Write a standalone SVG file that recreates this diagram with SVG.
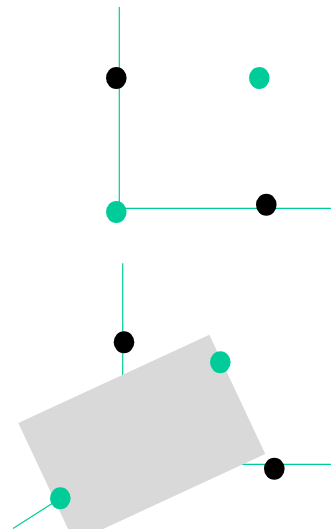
<svg xmlns="http://www.w3.org/2000/svg" width="331" height="529" viewBox="0 0 331 529">
<style>
.ln{stroke:#00cc99;stroke-width:1.2;fill:none}
.g{fill:#00cc99}
.b{fill:#000}
</style>
<rect width="331" height="529" fill="#fff"/>
<g id="connectors">
<line class="ln" x1="119.3" y1="7" x2="119.3" y2="208.3"/>
<line class="ln" x1="119.3" y1="208.3" x2="331" y2="208.3"/>
<line class="ln" x1="122.7" y1="263.3" x2="122.7" y2="380"/>
<line class="ln" x1="240" y1="464.3" x2="331" y2="464.3"/>
<line class="ln" x1="13" y1="528.5" x2="60.3" y2="498.3"/>
</g>
<g id="shape">
<polygon points="18.3,423 209.3,334.7 265.3,454 74.3,542.3" fill="#d9d9d9"/>
</g>
<g id="dot1"><ellipse class="b" cx="116.3" cy="78" rx="10.3" ry="11"/></g>
<g id="dot2"><ellipse class="g" cx="259.3" cy="78" rx="10.3" ry="11"/></g>
<g id="dot3"><ellipse class="g" cx="116.3" cy="212" rx="10.3" ry="11"/></g>
<g id="dot4"><ellipse class="b" cx="266.3" cy="204.7" rx="10.3" ry="11"/></g>
<g id="dot5"><ellipse class="b" cx="124" cy="342.3" rx="10.3" ry="11"/></g>
<g id="dot6"><ellipse class="g" cx="220.3" cy="362.3" rx="10.3" ry="11"/></g>
<g id="dot7"><ellipse class="b" cx="274.3" cy="468.7" rx="10.3" ry="11"/></g>
<g id="dot8"><ellipse class="g" cx="60.3" cy="498.3" rx="10.3" ry="11"/></g>
</svg>
